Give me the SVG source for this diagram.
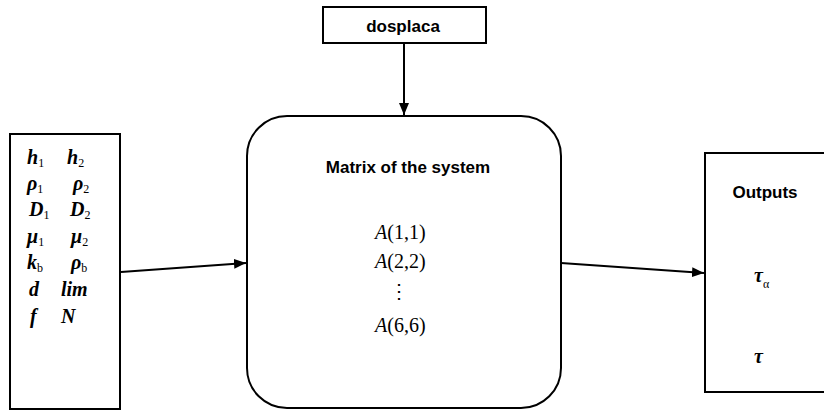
<svg xmlns="http://www.w3.org/2000/svg" width="824" height="413" viewBox="0 0 824 413">
<style>
.box{fill:#fff;stroke:#000;stroke-width:2}
.lbl{font-family:"Liberation Sans",Arial,sans-serif;font-size:17px;font-weight:bold;fill:#000;text-anchor:middle}
.sym{font-family:"Liberation Serif","Times New Roman",serif;font-style:italic;font-weight:bold;font-size:20px;fill:#000}
.sub{font-size:12px;font-style:normal;font-weight:normal}
.mat{font-family:"Liberation Serif","Times New Roman",serif;font-size:20px;fill:#000}
.edge{fill:none;stroke:#000;stroke-width:2}
</style>
<defs>
<marker id="ah" markerWidth="12" markerHeight="10" refX="12" refY="5" orient="auto" markerUnits="userSpaceOnUse">
<path d="M0,0 L12,5 L0,10 Z" fill="#000"/>
</marker>
</defs>
<g id="connectors">
<line class="edge" x1="404" y1="43" x2="404" y2="115" marker-end="url(#ah)"/>
<line class="edge" x1="121" y1="272" x2="246" y2="263" marker-end="url(#ah)"/>
<line class="edge" x1="561" y1="263" x2="704" y2="273" marker-end="url(#ah)"/>
</g>
<g id="dosplaca">
<rect class="box" x="323" y="7" width="163" height="36"/>
<text class="lbl" x="403" y="32" font-size="18">dosplaca</text>
</g>
<g id="inputs">
<rect class="box" x="10" y="134" width="110" height="275"/>
<text class="sym" x="27" y="164">h<tspan class="sub" dy="3">1</tspan></text>
<text class="sym" x="67" y="164">h<tspan class="sub" dy="3">2</tspan></text>
<text class="sym" x="27" y="190">ρ<tspan class="sub" dy="3">1</tspan></text>
<text class="sym" x="73" y="190">ρ<tspan class="sub" dy="3">2</tspan></text>
<text class="sym" x="29" y="216">D<tspan class="sub" dy="3">1</tspan></text>
<text class="sym" x="70" y="216">D<tspan class="sub" dy="3">2</tspan></text>
<text class="sym" x="27" y="243">μ<tspan class="sub" dy="3">1</tspan></text>
<text class="sym" x="71" y="243">μ<tspan class="sub" dy="3">2</tspan></text>
<text class="sym" x="27" y="269">k<tspan class="sub" dy="3" font-style="italic">b</tspan></text>
<text class="sym" x="71" y="269">ρ<tspan class="sub" dy="3" font-style="italic">b</tspan></text>
<text class="sym" x="29" y="296">d</text>
<text class="sym" x="61" y="296">lim</text>
<text class="sym" x="30" y="323">f</text>
<text class="sym" x="61" y="323">N</text>
</g>
<g id="matrix">
<rect class="box" x="247" y="116" width="314" height="292" rx="40" ry="40"/>
<text class="lbl" x="408" y="173" font-size="16">Matrix of the system</text>
<text class="mat" x="375" y="239"><tspan font-style="italic">A</tspan>(1,1)</text>
<text class="mat" x="375" y="268"><tspan font-style="italic">A</tspan>(2,2)</text>
<text class="mat" x="399" y="298" text-anchor="middle">⋮</text>
<text class="mat" x="375" y="332"><tspan font-style="italic">A</tspan>(6,6)</text>
</g>
<g id="outputs">
<rect class="box" x="705" y="153" width="130" height="239"/>
<text class="lbl" x="765" y="198" font-size="16">Outputs</text>
<text class="sym" x="754" y="282" font-size="28">τ<tspan class="sub" dy="6" font-size="15" font-style="italic">α</tspan></text>
<text class="sym" x="754" y="363" font-size="28">τ</text>
</g>
</svg>
